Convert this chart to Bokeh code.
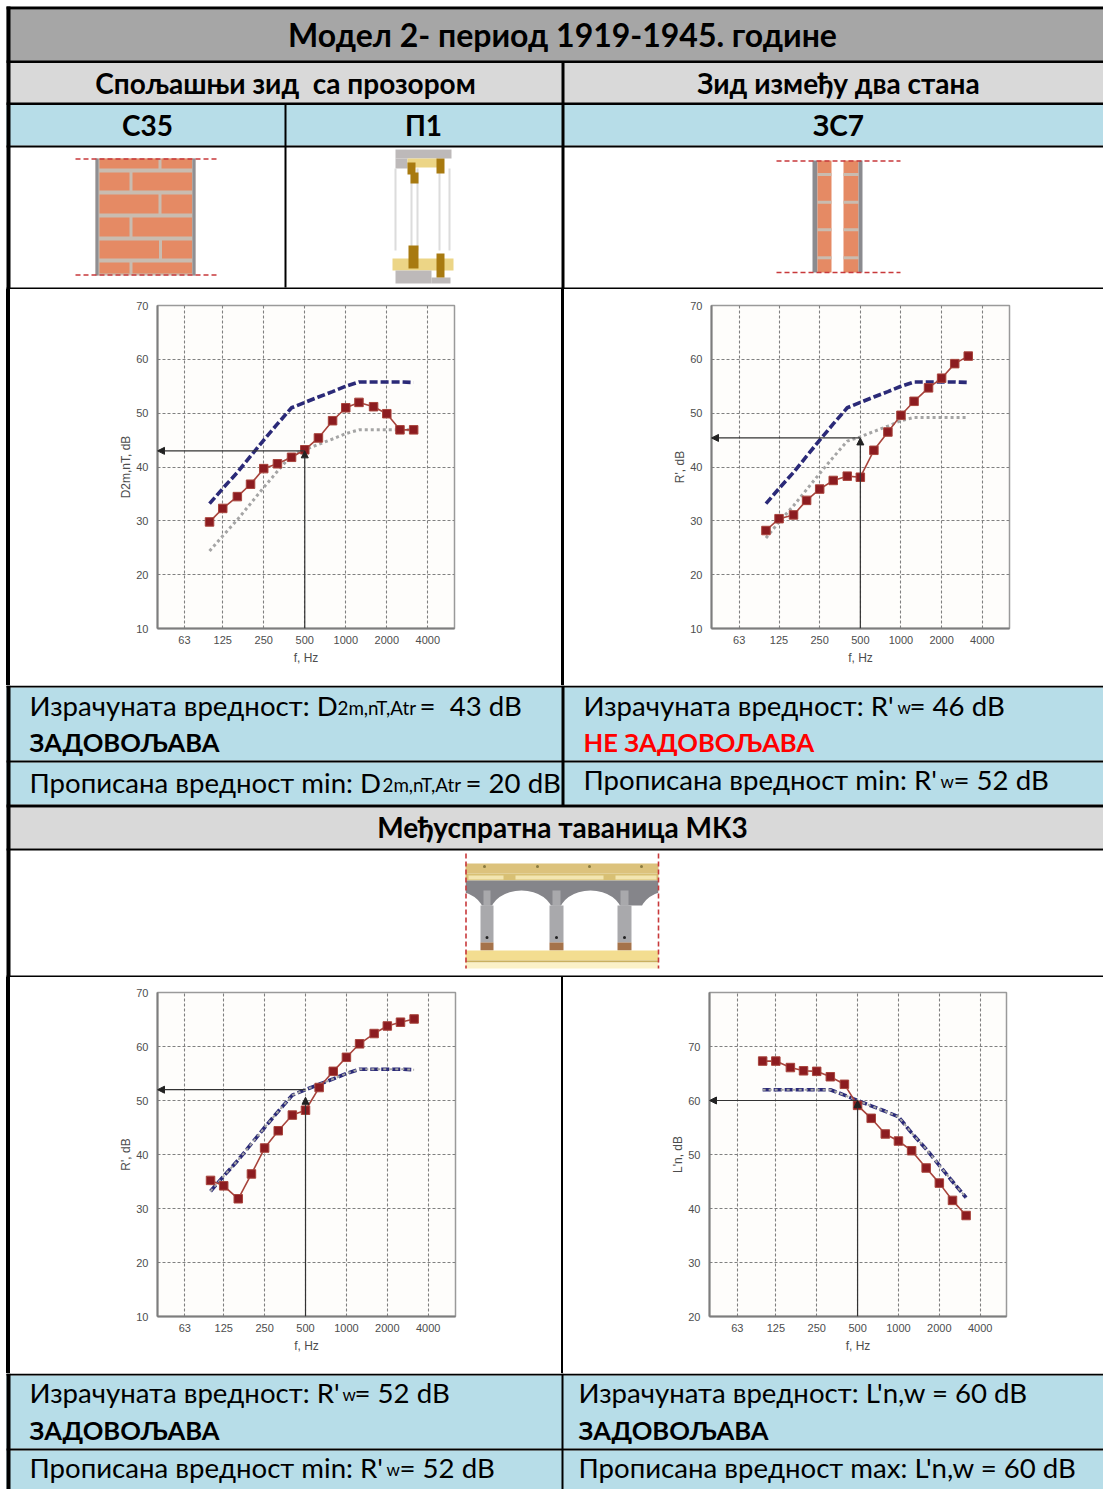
from bokeh.plotting import figure
from bokeh.layouts import column, row
from bokeh.models import Range1d, FixedTicker, Arrow, NormalHead, Div
from bokeh.core.properties import value
from bokeh.embed import file_html
from bokeh.resources import INLINE

# ---- data ----
freq = [100, 125, 160, 200, 250, 315, 400, 500, 630, 800, 1000, 1250, 1600, 2000, 2500, 3150]
x_ticks = [125, 250, 500, 1000, 2000, 4000]
y_ticks_a = [10, 20, 30, 40, 50, 60, 70]
y_ticks_b = [20, 30, 40, 50, 60, 70]

ref_airborne = [33.2, 36, 39, 42, 45, 48, 51, 52, 53, 54, 55, 55.8, 55.8, 55.8, 55.8, 55.7]

d2m_measured = [29.8, 32.3, 34.5, 36.8, 39.7, 40.6, 41.8, 43.2, 45.4, 48.6, 51, 52, 51.2, 49.9, 46.9, 46.9]
d2m_shifted = [24.4, 27.2, 30.2, 33.2, 36.2, 39.2, 42.2, 43.2, 44.2, 45.2, 46.2, 46.9, 46.9, 46.9, 46.9, 46.9]
d2m_value = 43

zs7_measured = [28.2, 30.4, 31.1, 33.8, 35.9, 37.5, 38.3, 38.1, 43.1, 46.5, 49.6, 52.2, 54.7, 56.5, 59.2, 60.6]
zs7_shifted = [26.8, 29.8, 32.8, 35.8, 38.8, 41.8, 44.8, 45.6, 46.6, 47.6, 48.6, 49.2, 49.2, 49.2, 49.2, 49.2]
zs7_value = 45.4

mk3_measured = [35.2, 34.2, 31.8, 36.4, 41.2, 44.4, 47.3, 48.2, 52.4, 55.4, 58, 60.5, 62.4, 63.8, 64.5, 65.1]
mk3_shifted = [33.2, 36, 39, 42, 45, 48, 51, 52, 53, 54, 55, 55.8, 55.8, 55.8, 55.8, 55.7]
mk3_value = 52

impact_measured = [67.3, 67.3, 66.1, 65.5, 65.4, 64.4, 63, 59.1, 56.7, 53.8, 52.5, 50.7, 47.5, 44.7, 41.5, 38.7]
impact_ref = [62, 62, 62, 62, 62, 62, 61, 60, 59, 58, 57, 54, 51, 48, 45, 42]
impact_shifted = [62, 62, 62, 62, 62, 62, 61, 60, 59, 58, 57, 54, 51, 48, 45, 42]
impact_value = 60

FONT = "Lato"
BLUE = "#b7dde8"
GREY = "#d9d9d9"
DARK = "#a6a6a6"


def band_fig(h, y0):
    p = figure(width=1103, height=h, x_range=Range1d(0, 1103), y_range=Range1d(y0 + h, y0),
               toolbar_location=None, output_backend="svg", x_axis_type=None, y_axis_type=None,
               min_border=0, outline_line_color=None, margin=0, background_fill_color="white",
               border_fill_color="white")
    p.grid.visible = False
    return p


def box(p, l, r, t, b, c):
    p.quad(left=[l], right=[r], top=[t], bottom=[b], fill_color=c, line_color=None)


def txt(p, x, y, s, size, bold=False, align="left", color="#000000"):
    dx = -1 if align == "left" else 0
    p.text(x=[x + dx], y=[y - 1.7], text=[s], text_font=value(FONT), text_font_size=f"{size}px",
           text_font_style="bold" if bold else "normal", text_align=align,
           text_baseline="middle", text_color=color)


def reddash(p, x0, x1, y0, y1):
    p.line([x0, x1], [y0, y1], line_color="#c8393b", line_width=1.6, line_dash="5 3")


def chart(w, h, xr, low_tick, yr_top, yticks, left, right, top, bottom, ylabel, measured, series, val, head_y=None):
    # the source's first tick, labelled 63, sits slightly off the true log position
    p = figure(width=w, height=h, x_axis_type="log", x_range=Range1d(*xr), y_range=Range1d(10 if yticks[0] == 10 else 20, yr_top),
               toolbar_location=None, output_backend="svg", margin=0,
               min_border_left=left, min_border_right=right, min_border_top=top, min_border_bottom=bottom,
               background_fill_color="#fefdfb", border_fill_color="#ffffff",
               outline_line_color="#9a9a9a", outline_line_width=1.5)
    p.xaxis.ticker = FixedTicker(ticks=[low_tick] + x_ticks, minor_ticks=[])
    p.xaxis.major_label_overrides = {low_tick: "63", **{t: str(t) for t in x_ticks}}
    p.yaxis.ticker = FixedTicker(ticks=yticks, minor_ticks=[])
    for ax in (p.xaxis[0], p.yaxis[0]):
        ax.major_tick_line_color = None
        ax.minor_tick_line_color = None
        ax.axis_line_color = "#7d7d7d"
        ax.axis_line_width = 2
        ax.major_label_text_font = "Liberation Sans"
        ax.major_label_text_font_size = "11px"
        ax.major_label_text_color = "#4d4d4d"
        ax.axis_label_text_font = "Liberation Sans"
        ax.axis_label_text_font_size = "12px"
        ax.axis_label_text_font_style = "normal"
        ax.axis_label_text_color = "#4d4d4d"
    p.xaxis.axis_label = "f, Hz"
    p.yaxis.axis_label = ylabel
    p.xaxis.major_label_standoff = 1
    p.yaxis.major_label_standoff = 3
    p.xaxis.axis_label_standoff = 4
    p.yaxis.axis_label_standoff = 0
    p.grid.grid_line_color = "#808080"
    p.grid.grid_line_dash = "3 2"
    p.grid.grid_line_width = 1.1
    bottom_y = 10 if yticks[0] == 10 else 20
    for vals, col, dash, wd in series:
        p.line(freq, vals, line_color=col, line_dash=dash, line_width=wd)
    p.line(freq, measured, line_color="#a8443c", line_width=1.6)
    p.scatter(freq, measured, marker="square", size=8.5, fill_color="#8c1c20", line_color="#a8443c", line_width=1)
    p.add_layout(Arrow(end=NormalHead(size=7, fill_color="#222222", line_color="#222222"),
                       x_start=500, y_start=val, x_end=xr[0], y_end=val,
                       line_color="#333333", line_width=1.2))
    p.add_layout(Arrow(end=NormalHead(size=7, fill_color="#222222", line_color="#222222"),
                       x_start=500, y_start=bottom_y, x_end=500, y_end=head_y if head_y else val,
                       line_color="#333333", line_width=1.2))
    return p


NAVY = "#2b2a78"
DOT = "#a5a5a5"
DASH = "8 3"
DOTS = "3 3"
WB = 3.6
WD = 3

c1 = chart(551, 396, (41.5, 6282), 65.4, 70, y_ticks_a, 147, 107, 16, 57, "D2m,nT, dB", d2m_measured,
           [(ref_airborne, NAVY, DASH, WB), (d2m_shifted, DOT, DOTS, WD)], d2m_value)
c2 = chart(539, 396, (39.5, 6365), 63.3, 70, y_ticks_a, 147, 94, 16, 57, "R', dB", zs7_measured,
           [(ref_airborne, NAVY, DASH, WB), (zs7_shifted, DOT, DOTS, WD)], zs7_value)
c3 = chart(551, 396, (40.7, 6351), 64.6, 70, y_ticks_a, 147, 106, 15, 57, "R', dB", mk3_measured,
           [(ref_airborne, NAVY, DASH, WB), (mk3_shifted, DOT, DOTS, WD - 1)], mk3_value, head_y=50.6)
c4 = chart(539, 396, (40.6, 6247), 65, 80, y_ticks_b, 146, 96, 15, 57, "L'n, dB", impact_measured,
           [(impact_ref, NAVY, DASH, WB), (impact_shifted, DOT, DOTS, WD - 1)], impact_value)

# ---- top table ----
top = band_fig(289, 0)
box(top, 6, 1103, 9, 61, DARK)
box(top, 6, 1103, 62, 103, GREY)
box(top, 6, 1103, 104, 145, BLUE)
box(top, 6, 1103, 6, 9, "#000000")
box(top, 6, 1103, 60, 62.5, "#000000")
box(top, 6, 1103, 102, 104.5, "#000000")
box(top, 6, 1103, 145, 147, "#000000")
box(top, 6, 1103, 287, 289, "#000000")
box(top, 6, 10, 6, 289, "#000000")
box(top, 284, 286, 104, 287, "#000000")
box(top, 561, 564, 62, 289, "#000000")
txt(top, 562, 36, "Модел 2- период 1919-1945. године", 32, True, "center")
txt(top, 285, 84, "Спољашњи зид \u00a0са прозором", 28, True, "center")
txt(top, 838, 84, "Зид између два стана", 28, True, "center")
txt(top, 147, 126, "С35", 28, True, "center")
txt(top, 423, 126, "П1", 28, True, "center")
txt(top, 838, 126, "ЗС7", 28, True, "center")

# brick wall C35
MORT = "#c9bcb0"
BR = "#e58a64"
box(top, 95, 195, 158, 275, MORT)
box(top, 95, 98, 158, 275, "#8f8f93")
box(top, 192, 195, 158, 275, "#8f8f93")
courses = [(158, 168, 159.5), (172, 190, 130.5), (194, 213, 159.5), (217, 236, 130.5), (240, 258, 160), (262, 273, 130.5)]
for t, b, j in courses:
    box(top, 99, j - 1.5, t, b, BR)
    box(top, j + 1.5, 191.5, t, b, BR)
reddash(top, 75, 219, 158.5, 158.5)
reddash(top, 75, 219, 274.5, 274.5)

# window P1
G = "#bdb9b9"
Y = "#ecd586"
BW = "#a87a10"
box(top, 395, 451, 149, 158, G)
box(top, 395, 407, 158, 168, G)
for gx in (395, 411, 417, 439, 449):
    top.line([gx, gx], [168, 250], line_color="#dcdcdc", line_width=2)
box(top, 407, 437, 158, 167, Y)
box(top, 407, 415, 162, 174, BW)
box(top, 410, 418, 172, 183, BW)
box(top, 436, 444, 158, 173, BW)
box(top, 392, 453, 258, 270, Y)
box(top, 395, 431, 270, 283, G)
box(top, 431, 450, 277, 283, G)
box(top, 408, 418, 245, 268, BW)
box(top, 436, 444, 253, 277, BW)

# double wall ZS7
box(top, 812, 817, 160, 272, "#8b8b8f")
box(top, 817, 831, 160, 272, BR)
box(top, 843, 858, 160, 272, BR)
box(top, 858, 862, 160, 272, "#8b8b8f")
for jy in (174, 201.7, 229.3, 257.3):
    box(top, 817, 831, jy - 1.5, jy + 1.5, MORT)
    box(top, 843, 858, jy - 1.5, jy + 1.5, MORT)
reddash(top, 776, 900, 160.5, 160.5)
reddash(top, 776, 900, 272, 272)

# ---- middle table ----
mid = band_fig(292, 685)
box(mid, 6, 1103, 687, 760, BLUE)
box(mid, 6, 1103, 762, 804, BLUE)
box(mid, 6, 1103, 807, 848, GREY)
box(mid, 6, 1103, 685, 687, "#000000")
box(mid, 6, 1103, 760, 762, "#000000")
box(mid, 6, 1103, 804, 807, "#000000")
box(mid, 6, 1103, 848, 850, "#000000")
box(mid, 6, 1103, 975, 977, "#000000")
box(mid, 6, 10, 685, 977, "#000000")
box(mid, 561, 564, 685, 805, "#000000")
B = 27.6
S = 18.8
W = 17
H = 25.6
txt(mid, 30, 707, "Израчуната вредност: D", B)
txt(mid, 338, 709, "2m,nT,Atr", S)
txt(mid, 420, 707, "=\u00a0\u00a043 dB", B)
txt(mid, 30, 743, "ЗАДОВОЉАВА", H, True)
txt(mid, 30, 784, "Прописана вредност min: D", B)
txt(mid, 383, 786, "2m,nT,Atr", S)
txt(mid, 466, 784, "= 20 dB", B)
txt(mid, 584, 707, "Израчуната вредност: R'", B)
txt(mid, 898, 709, "w", W)
txt(mid, 910, 707, "= 46 dB", B)
txt(mid, 584, 743, "НЕ ЗАДОВОЉАВА", H, True, color="#ff0000")
txt(mid, 584, 781, "Прописана вредност min: R'", B)
txt(mid, 941, 783, "w", W)
txt(mid, 954, 781, "= 52 dB", B)
txt(mid, 562, 828, "Међуспратна таваница МК3", 28, True, "center")

# floor MK3
box(mid, 465, 658, 863, 873, "#dcc27c")
box(mid, 465, 658, 873, 880, "#d8c074")
for l, r in ((468, 503), (515, 603), (615, 656)):
    box(mid, l, r, 875, 879, "#f2e5b0")
mid.scatter([484, 537, 589, 641], [866, 866, 866, 866], size=3, marker="circle", fill_color="#8a7a40", line_color=None)
box(mid, 465, 658, 880, 905, "#85858a")
for cx in (452, 521, 590, 671):
    mid.ellipse(x=[cx], y=[912], width=[62], height=[44], fill_color="white", line_color=None)
box(mid, 452, 465, 880, 935, "white")
box(mid, 658, 672, 880, 935, "white")
for l, r in ((480, 493), (549, 563), (617, 631)):
    box(mid, l + 3, r - 3, 890, 905, "#a9a9ac")
    box(mid, l, r, 905, 942, "#a9a9ac")
    box(mid, l, r, 942, 950, "#a5734a")
    mid.scatter([(l + r) / 2], [937], size=3, marker="circle", fill_color="#222222", line_color=None)
box(mid, 465, 658, 950, 960, "#f3dd90")
box(mid, 465, 658, 960, 962, "#c9b060")
box(mid, 465, 658, 962, 968, "#fbf1c8")
reddash(mid, 465.5, 465.5, 853, 968)
reddash(mid, 658, 658, 853, 968)

# ---- bottom table ----
bot = band_fig(116, 1373)
box(bot, 6, 1103, 1375, 1448, BLUE)
box(bot, 6, 1103, 1450, 1489, BLUE)
box(bot, 6, 1103, 1373, 1375, "#000000")
box(bot, 6, 1103, 1448, 1450, "#000000")
box(bot, 6, 10, 1373, 1489, "#000000")
box(bot, 561, 563, 1373, 1489, "#000000")
txt(bot, 30, 1394, "Израчуната вредност: R'", B)
txt(bot, 343, 1396, "w", W)
txt(bot, 355, 1394, "= 52 dB", B)
txt(bot, 30, 1431, "ЗАДОВОЉАВА", H, True)
txt(bot, 30, 1469, "Прописана вредност min: R'", B)
txt(bot, 387, 1471, "w", W)
txt(bot, 400, 1469, "= 52 dB", B)
txt(bot, 579, 1394, "Израчуната вредност: L'n,w = 60 dB", B)
txt(bot, 579, 1431, "ЗАДОВОЉАВА", H, True)
txt(bot, 579, 1469, "Прописана вредност max: L'n,w = 60 dB", B)


def bar(w, h=396, c="#000000"):
    return Div(text="", width=w, height=h, margin=0, styles={"background-color": c})


r1 = row(bar(6, c="#ffffff"), bar(4), c1, bar(3), c2, spacing=0, margin=0)
r2 = row(bar(6, c="#ffffff"), bar(4), c3, bar(2), c4, spacing=0, margin=0)
page = column(top, r1, mid, r2, bot, spacing=0, margin=0)

open("out.html", "w").write(file_html(page, INLINE))
